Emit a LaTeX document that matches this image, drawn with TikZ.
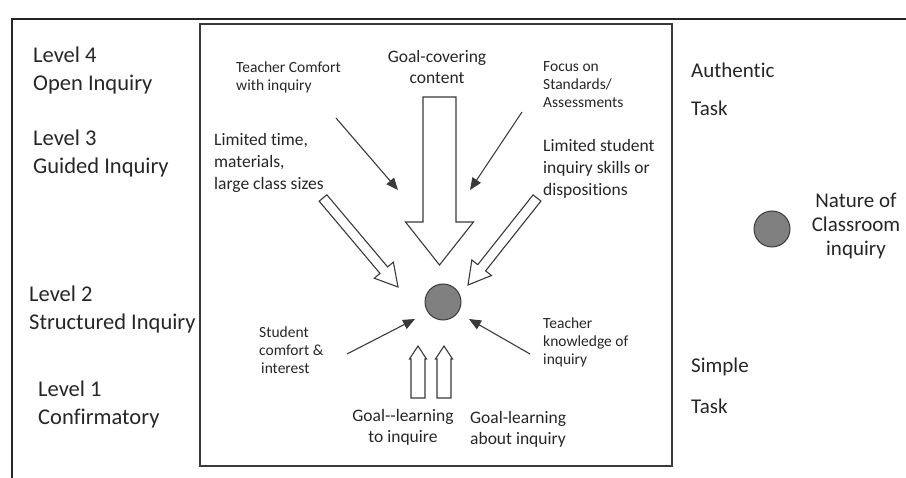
\documentclass[tikz,border=0pt]{standalone}
\usepackage{fontspec}
\setmainfont{Carlito}[Ligatures={TeX,NoCommon}]
\usetikzlibrary{arrows.meta,calc}
\definecolor{txt}{HTML}{262626}
\definecolor{ln}{HTML}{3A3A3A}
\definecolor{dot}{HTML}{808080}
\newcommand\hollowarrow[5]{% start, tip, shaft half-width, head half-width, head length
  \coordinate (hH) at ($(#2)!#5!(#1)$);
  \draw[harrow] ($(#1)!#3!90:(#2)$) -- ($(hH)!#3!90:(#2)$) -- ($(hH)!#4!90:(#2)$) -- (#2)
     -- ($(hH)!#4!-90:(#2)$) -- ($(hH)!#3!-90:(#2)$) -- ($(#1)!#3!-90:(#2)$) -- cycle;}
\begin{document}
\begin{tikzpicture}[x=1pt,y=-1pt,
  big/.style={inner sep=0pt,text=txt,font=\fontsize{21}{27}\selectfont},
  lev/.style={inner sep=0pt,text=txt,font=\fontsize{22.5}{28}\selectfont,anchor=west,align=left},
  med/.style={inner sep=0pt,text=txt,font=\fontsize{17.5}{21}\selectfont},
  sml/.style={inner sep=0pt,text=txt,font=\fontsize{15.5}{18}\selectfont},
  harrow/.style={draw=ln,line width=1.1pt,fill=white,line join=miter},
  thin/.style={draw=ln,line width=1.1pt,-{Triangle[length=12pt,width=10pt]}},
  dotc/.style={circle,draw=ln,line width=1pt,fill=dot,minimum size=36pt,inner sep=0pt}]
\useasboundingbox (0,0) rectangle (906,478);
% frames
\draw[line width=2.4pt,draw=black!85] (906,19) -- (12,19) -- (12,478);
\draw[line width=1.4pt,draw=ln] (200,24) rectangle (672,466);
% left labels
\node[lev] (l4) at (33,71) {Level 4\\Open Inquiry};
\node[lev] (l3) at (33,154) {Level 3\\Guided Inquiry};
\node[lev] (l2) at (29,310) {Level 2\\Structured Inquiry};
\node[lev] (l1) at (38,405) {Level 1\\Confirmatory};
% right labels
\node[big,anchor=west] (auth) at (691,70) {Authentic};
\node[big,anchor=west] (task1) at (691,108) {Task};
\node[big,anchor=west] (simp) at (691,367) {Simple};
\node[big,anchor=west] (task2) at (691,406) {Task};
\node[dotc] (legend) at (772,229) {};
\node[big,align=center,font=\fontsize{21}{24}\selectfont] (nat) at (856,226) {Nature of\\Classroom\\inquiry};
% inner labels
\node[med,align=center] (gc) at (437,67) {Goal-covering\\content};
\node[sml,anchor=west,align=left] (tc) at (236,77) {Teacher Comfort\\with inquiry};
\node[sml,anchor=west,align=left] (fs) at (543,85) {Focus on\\Standards/\\Assessments};
\node[med,anchor=west,align=left,font=\fontsize{17.5}{22}\selectfont] (lt) at (214,163) {Limited time,\\materials,\\large class sizes};
\node[med,anchor=west,align=left,font=\fontsize{17.5}{22}\selectfont] (ls) at (543,169) {Limited student\\inquiry skills or\\dispositions};
\node[sml,anchor=west,align=left] (sc) at (259,350) {Student\\comfort \&\\\hspace{2pt}interest};
\node[sml,anchor=west,align=left] (tk) at (543,342) {Teacher\\knowledge of\\inquiry};
\node[med,align=center] (gl1) at (403,427) {Goal-{}-learning\\to inquire};
\node[med,anchor=west,align=left] (gl2) at (470,429) {Goal-learning\\about inquiry};
% centre
\node[dotc] (c) at (443,302) {};
% coordinates for arrows
\coordinate (tcS) at (336,118); \coordinate (tcE) at (398,190);
\coordinate (fsS) at (522,112); \coordinate (fsE) at (470,190);
\coordinate (scS) at (347,354); \coordinate (scE) at (415,319);
\coordinate (tkS) at (530,354); \coordinate (tkE) at (469,319);
\coordinate (ltS) at (323,198); \coordinate (ltE) at (398,287);
\coordinate (lsS) at (537,198); \coordinate (lsE) at (468,285);
\coordinate (gcS) at (439.5,97); \coordinate (gcE) at (439.5,265);
\coordinate (u1S) at (418,398); \coordinate (u1E) at (418,346);
\coordinate (u2S) at (444,398); \coordinate (u2E) at (444,346);
% thin arrows
\draw[thin] (tcS) -- (tcE);
\draw[thin] (fsS) -- (fsE);
\draw[thin] (scS) -- (scE);
\draw[thin] (tkS) -- (tkE);
% hollow arrows
\hollowarrow{gcS}{gcE}{16.5pt}{34pt}{43pt}
\hollowarrow{ltS}{ltE}{5pt}{12.5pt}{22pt}
\hollowarrow{lsS}{lsE}{5pt}{12.5pt}{22pt}
\hollowarrow{u1S}{u1E}{7pt}{8.5pt}{13pt}
\hollowarrow{u2S}{u2E}{7pt}{8.5pt}{13pt}
\end{tikzpicture}
\end{document}
